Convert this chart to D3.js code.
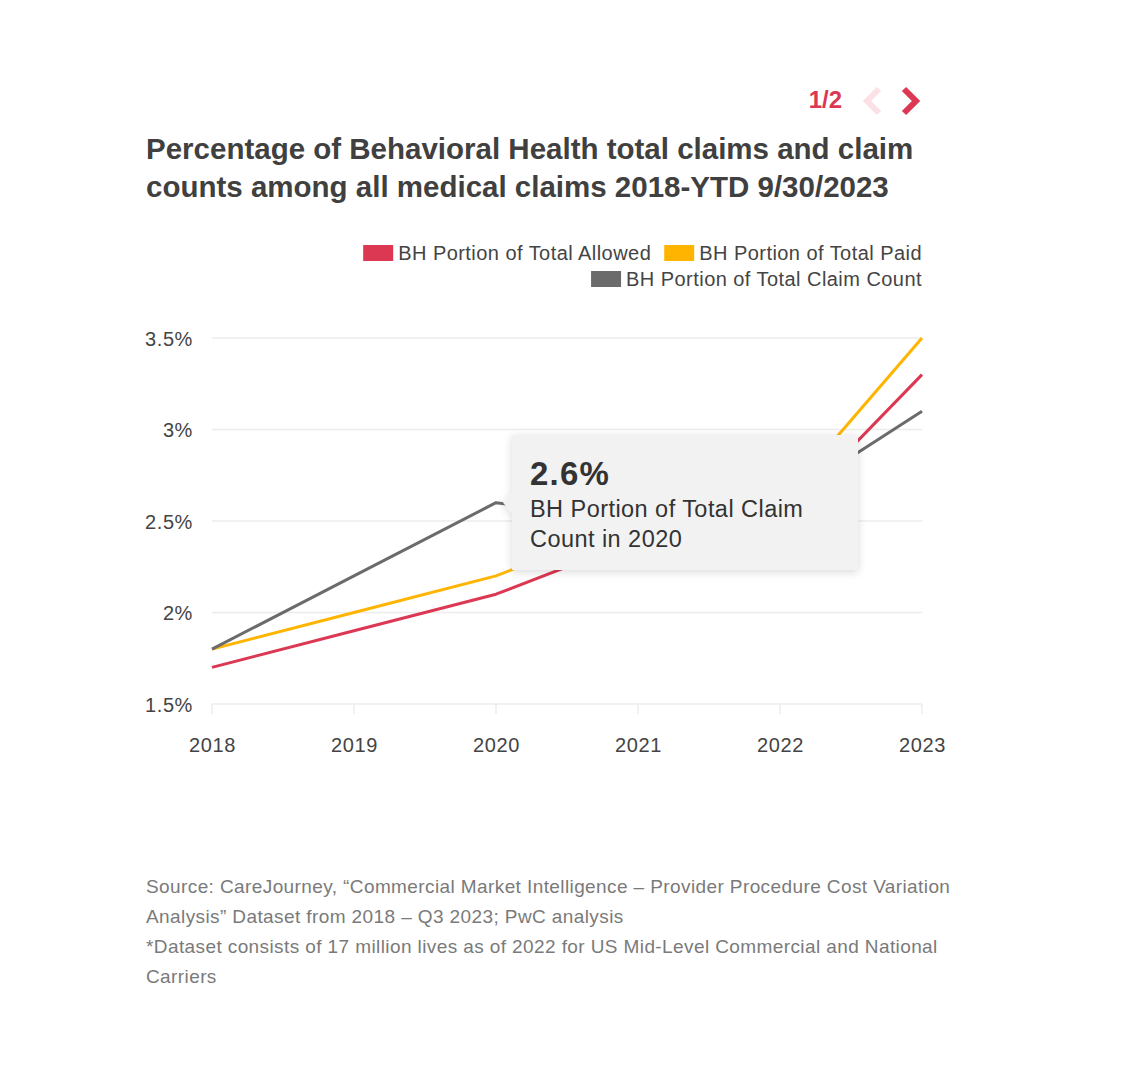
<!DOCTYPE html>
<html><head><meta charset="utf-8">
<script src="https://cdn.jsdelivr.net/npm/d3@7/dist/d3.min.js"></script>
<style>
body{margin:0;background:#fff;}
svg text{font-family:"Liberation Sans",Arial,Helvetica,sans-serif;}
</style></head>
<body><div id="chart"></div>
<script>
const years = [2018, 2019, 2020, 2021, 2022, 2023];
const allowed = [1.7, 1.9, 2.1, 2.4, 2.5, 3.3];
const paid = [1.8, 2.0, 2.2, 2.5, 2.6, 3.5];
const claimCount = [1.8, 2.2, 2.6, 2.5, 2.6, 3.1];
const seriesNames = ["BH Portion of Total Allowed", "BH Portion of Total Paid", "BH Portion of Total Claim Count"];
const seriesColors = ["#dc3753", "#ffb400", "#6b6b6b"];
const yTicks = [1.5, 2, 2.5, 3, 3.5];
const titleLines = ["Percentage of Behavioral Health total claims and claim", "counts among all medical claims 2018-YTD 9/30/2023"];
const footLines = ["Source: CareJourney, \u201cCommercial Market Intelligence \u2013 Provider Procedure Cost Variation",
  "Analysis\u201d Dataset from 2018 \u2013 Q3 2023; PwC analysis",
  "*Dataset consists of 17 million lives as of 2022 for US Mid-Level Commercial and National",
  "Carriers"];
const tipValue = "2.6%";
const tipLines = ["BH Portion of Total Claim", "Count in 2020"];
const pageLabel = "1/2";

const W = 1140, H = 1080;
const svg = d3.select("#chart").append("svg").attr("width", W).attr("height", H);
const defs = svg.append("defs");
const f = defs.append("filter").attr("id","sh").attr("x","-20%").attr("y","-20%").attr("width","140%").attr("height","150%");
f.append("feDropShadow").attr("dx",0).attr("dy",2).attr("stdDeviation",4).attr("flood-color","#000").attr("flood-opacity",0.15);

// nav
svg.append("text").attr("x", 842).attr("y", 108).attr("text-anchor","end")
  .attr("font-size", 24).attr("font-weight","bold").attr("fill","#dc3753").text(pageLabel);
svg.append("path").attr("d","M879,89 L867,101 L879,113").attr("fill","none")
  .attr("stroke","#fbe1e6").attr("stroke-width",6);
svg.append("path").attr("d","M904,89 L916,101 L904,113").attr("fill","none")
  .attr("stroke","#dc3753").attr("stroke-width",6);

// title
svg.selectAll("text.title").data(titleLines).join("text").attr("class","title")
  .attr("x", 146).attr("y", (d,i)=>159 + i*38)
  .attr("font-size", 29.5).attr("font-weight","bold").attr("fill","#404040").text(d=>d);

// legend
const legendRows = [[0,1],[2]];
const legendY = [253, 279];
legendRows.forEach((row, ri) => {
  let xx = 922;
  const items = row.slice().reverse();
  items.forEach((si, k) => {
    const t = svg.append("text").attr("y", legendY[ri] + 7).attr("font-size", 20).attr("fill","#444")
      .attr("letter-spacing", 0.45).attr("text-anchor","end").attr("x", xx).text(seriesNames[si]);
    const w = t.node().getBBox().width;
    svg.append("rect").attr("x", xx - w - 35).attr("y", legendY[ri] - 8).attr("width", 30).attr("height", 16)
      .attr("fill", seriesColors[si]);
    xx = xx - w - 35 - 13;
  });
});

// scales
const x = d3.scaleLinear().domain([2018, 2023]).range([212, 922]);
const y = d3.scaleLinear().domain([1.5, 3.5]).range([704, 338]);

const g = svg.append("g");
// grid
g.selectAll("line.grid").data(yTicks).join("line").attr("class","grid")
  .attr("x1", 212).attr("x2", 922).attr("y1", d=>y(d)).attr("y2", d=>y(d))
  .attr("stroke", "#ececec").attr("stroke-width", 1.5);
g.selectAll("line.xt").data(years).join("line").attr("class","xt")
  .attr("x1", d=>x(d)).attr("x2", d=>x(d)).attr("y1", 704).attr("y2", 714)
  .attr("stroke", "#ececec").attr("stroke-width", 1.5);

// y axis labels
const yAxis = d3.axisLeft(y).tickValues(yTicks).tickSize(0).tickPadding(0)
  .tickFormat(d => d3.format("")(d) + "%");
const ya = svg.append("g").attr("transform","translate(193,0)").call(yAxis);
ya.select(".domain").remove();
ya.selectAll("text").attr("font-size", 20).attr("fill","#444").attr("dy","0.35em").attr("letter-spacing", 0.6)
  .style("font-family",'"Liberation Sans",Arial,sans-serif');

const xAxis = d3.axisBottom(x).tickValues(years).tickSize(0).tickPadding(0).tickFormat(d3.format("d"));
const xa = svg.append("g").attr("transform","translate(0,745)").call(xAxis);
xa.select(".domain").remove();
xa.selectAll("text").attr("font-size", 20).attr("fill","#444").attr("dy","0.35em").attr("letter-spacing", 0.6)
  .style("font-family",'"Liberation Sans",Arial,sans-serif');

// lines
const line = d3.line().x((d,i)=>x(years[i])).y(d=>y(d));
[allowed, paid, claimCount].forEach((s, i) => {
  g.append("path").datum(s).attr("d", line).attr("fill","none")
    .attr("stroke", seriesColors[i]).attr("stroke-width", 3).attr("stroke-linejoin","round");
});

// tooltip
const px = x(2020), py = y(2.6);
const tx = px + 16, ty = 435, tw = 346, th = 135;
const tip = svg.append("g");
tip.append("path")
  .attr("d", `M${tx},${ty} H${tx+tw} V${ty+th} H${tx} V${py+10} L${tx-9},${py} L${tx},${py-10} Z`)
  .attr("fill","#f2f2f2").attr("filter","url(#sh)");
tip.append("text").attr("x", tx+18).attr("y", ty+50).attr("font-size", 33).attr("font-weight","bold")
  .attr("letter-spacing", 1.2).attr("fill","#333").text(tipValue);
tip.selectAll("text.tl").data(tipLines).join("text").attr("class","tl")
  .attr("x", tx+18).attr("y", (d,i)=> ty+82 + i*30).attr("font-size", 23.5).attr("letter-spacing", 0.45)
  .attr("fill","#333").text(d=>d);

// footnote
svg.selectAll("text.foot").data(footLines).join("text").attr("class","foot")
  .attr("x", 146).attr("y", (d,i)=>893 + i*30).attr("font-size", 19).attr("letter-spacing", 0.4)
  .attr("fill","#7a7a7a").text(d=>d);
</script>
</body></html>
